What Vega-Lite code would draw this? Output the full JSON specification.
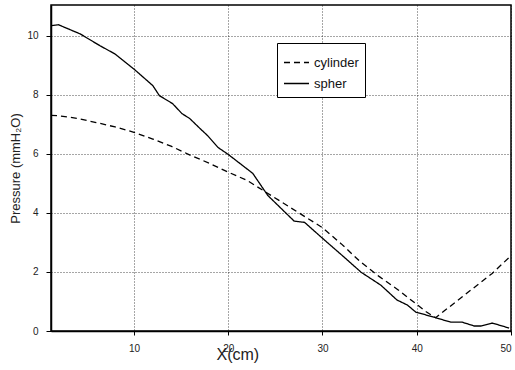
{
  "$schema": "https://vega.github.io/schema/vega-lite/v6.json",
  "width": 460,
  "height": 326,
  "autosize": "none",
  "padding": {"left": 51, "top": 5, "right": 4, "bottom": 39},
  "background": "white",
  "config": {
    "font": "Liberation Sans",
    "view": {"stroke": "black", "strokeWidth": 1.5},
    "axis": {"domainColor": "black", "domainWidth": 1.5, "tickColor": "black", "labelColor": "#222", "titleColor": "#222", "titleFontWeight": "normal", "labelFont": "Liberation Sans", "titleFont": "Liberation Sans"}
  },
  "data": {
    "values": [
      {"x": 1.2, "p": 7.3, "s": "cylinder"},
      {"x": 2, "p": 7.29, "s": "cylinder"},
      {"x": 4, "p": 7.2, "s": "cylinder"},
      {"x": 6, "p": 7.06, "s": "cylinder"},
      {"x": 8, "p": 6.91, "s": "cylinder"},
      {"x": 10, "p": 6.73, "s": "cylinder"},
      {"x": 12, "p": 6.5, "s": "cylinder"},
      {"x": 14, "p": 6.25, "s": "cylinder"},
      {"x": 16, "p": 5.95, "s": "cylinder"},
      {"x": 18, "p": 5.68, "s": "cylinder"},
      {"x": 20, "p": 5.38, "s": "cylinder"},
      {"x": 22, "p": 5.1, "s": "cylinder"},
      {"x": 24, "p": 4.7, "s": "cylinder"},
      {"x": 26, "p": 4.3, "s": "cylinder"},
      {"x": 28, "p": 3.9, "s": "cylinder"},
      {"x": 30, "p": 3.5, "s": "cylinder"},
      {"x": 32, "p": 2.95, "s": "cylinder"},
      {"x": 34, "p": 2.35, "s": "cylinder"},
      {"x": 36, "p": 1.85, "s": "cylinder"},
      {"x": 38, "p": 1.4, "s": "cylinder"},
      {"x": 40, "p": 0.9, "s": "cylinder"},
      {"x": 41, "p": 0.65, "s": "cylinder"},
      {"x": 42, "p": 0.45, "s": "cylinder"},
      {"x": 43, "p": 0.7, "s": "cylinder"},
      {"x": 44, "p": 0.95, "s": "cylinder"},
      {"x": 46, "p": 1.45, "s": "cylinder"},
      {"x": 48, "p": 1.95, "s": "cylinder"},
      {"x": 50, "p": 2.55, "s": "cylinder"},
      {"x": 1.2, "p": 10.34, "s": "spher"},
      {"x": 2.0, "p": 10.37, "s": "spher"},
      {"x": 4.3, "p": 10.06, "s": "spher"},
      {"x": 6.4, "p": 9.66, "s": "spher"},
      {"x": 8.0, "p": 9.38, "s": "spher"},
      {"x": 10.0, "p": 8.87, "s": "spher"},
      {"x": 12.0, "p": 8.31, "s": "spher"},
      {"x": 12.7, "p": 7.97, "s": "spher"},
      {"x": 14.1, "p": 7.7, "s": "spher"},
      {"x": 15.1, "p": 7.36, "s": "spher"},
      {"x": 15.9, "p": 7.2, "s": "spher"},
      {"x": 17.0, "p": 6.86, "s": "spher"},
      {"x": 17.8, "p": 6.62, "s": "spher"},
      {"x": 18.9, "p": 6.22, "s": "spher"},
      {"x": 20.0, "p": 5.98, "s": "spher"},
      {"x": 22.6, "p": 5.34, "s": "spher"},
      {"x": 24.2, "p": 4.59, "s": "spher"},
      {"x": 27.0, "p": 3.72, "s": "spher"},
      {"x": 28.1, "p": 3.68, "s": "spher"},
      {"x": 30.0, "p": 3.14, "s": "spher"},
      {"x": 32.3, "p": 2.5, "s": "spher"},
      {"x": 34.1, "p": 1.99, "s": "spher"},
      {"x": 36.2, "p": 1.55, "s": "spher"},
      {"x": 37.9, "p": 1.05, "s": "spher"},
      {"x": 39.0, "p": 0.88, "s": "spher"},
      {"x": 39.9, "p": 0.64, "s": "spher"},
      {"x": 41.8, "p": 0.47, "s": "spher"},
      {"x": 43.6, "p": 0.3, "s": "spher"},
      {"x": 44.8, "p": 0.3, "s": "spher"},
      {"x": 46.1, "p": 0.17, "s": "spher"},
      {"x": 46.8, "p": 0.17, "s": "spher"},
      {"x": 48.0, "p": 0.27, "s": "spher"},
      {"x": 49.8, "p": 0.1, "s": "spher"}
    ]
  },
  "mark": {"type": "line", "color": "black", "strokeWidth": 1.3, "clip": true},
  "encoding": {
    "x": {
      "field": "x", "type": "quantitative",
      "scale": {"domain": [1.2, 50], "nice": false, "zero": false},
      "axis": {
        "values": [10, 20, 30, 40, 50],
        "labelFontSize": 10, "labelPadding": 8, "tickSize": 4,
        "grid": true, "gridDash": [1, 2], "gridColor": "black", "gridOpacity": 0.7,
        "title": "X(cm)", "titleFontSize": 16, "titleX": 165, "titleY": 15, "titleAnchor": "start"
      }
    },
    "y": {
      "field": "p", "type": "quantitative",
      "scale": {"domain": [0, 11.04], "nice": false},
      "axis": {
        "values": [0, 2, 4, 6, 8, 10],
        "labelFontSize": 10, "labelPadding": 8, "tickSize": 5,
        "grid": true, "gridDash": [1, 2], "gridColor": "black", "gridOpacity": 0.7,
        "title": "Pressure (mmH₂O)", "titleFontSize": 13, "titlePadding": 4
      }
    },
    "strokeDash": {
      "field": "s", "type": "nominal",
      "scale": {"domain": ["cylinder", "spher"], "range": [[6, 4], [1, 0]]},
      "legend": {
        "title": null, "orient": "none", "legendX": 226, "legendY": 38,
        "strokeColor": "black", "fillColor": "white",
        "padding": 6, "symbolType": "stroke", "symbolSize": 625, "symbolStrokeColor": "black",
        "symbolStrokeWidth": 1.3, "labelFontSize": 13, "labelColor": "#111", "rowPadding": 0, "labelOffset": 4
      }
    }
  }
}
